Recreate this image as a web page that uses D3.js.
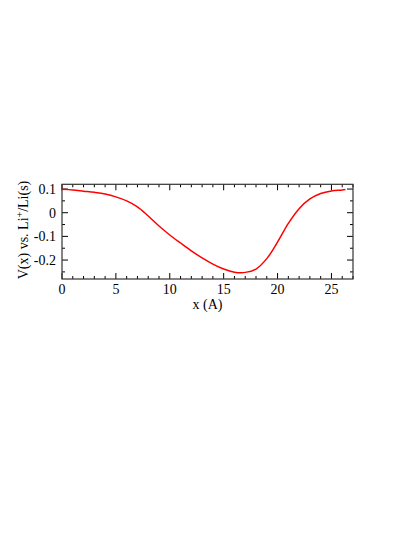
<!DOCTYPE html>
<html><head><meta charset="utf-8">
<script src="https://cdn.jsdelivr.net/npm/d3@7"></script>
<style>body{margin:0;background:#fff}svg{display:block}text{font-family:"Liberation Serif","Times New Roman",serif;fill:#000}</style>
</head><body>
<script>
const xValues = [0,1,2,3,4,5,6,7,8,9,10,11,12,13,14,15,16,17,18,19,20,21,22,23,24,25,26,26.3];
const yValues = [0.099,0.096,0.091,0.086,0.079,0.067,0.050,0.025,-0.014,-0.056,-0.094,-0.128,-0.161,-0.191,-0.217,-0.238,-0.251,-0.252,-0.238,-0.194,-0.124,-0.045,0.017,0.058,0.081,0.092,0.096,0.098];
const xTicks = [0,5,10,15,20,25];
const yTicks = [0.1,0,-0.1,-0.2];
const xMinor = d3.range(0,28,1);
const yMinor = [0.1,0.05,0,-0.05,-0.1,-0.15,-0.2,-0.25];

const W=415,H=537;
const L=62,R=353,T=184.3,B=279;
const svg=d3.select("body").append("svg").attr("width",W).attr("height",H);
const x=d3.scaleLinear().domain([0,27]).range([L,R]);
const y=d3.scaleLinear().domain([-0.28,0.12]).range([B,T]);
const fmt=d=>d===0?"0":d3.format(".1f")(d).replace("−","-");

const g=svg.append("g");
xMinor.forEach(v=>{
  const major=xTicks.includes(v), len=major?6:3;
  g.append("line").attr("x1",x(v)).attr("x2",x(v)).attr("y1",B).attr("y2",B-len).attr("stroke","#000");
  g.append("line").attr("x1",x(v)).attr("x2",x(v)).attr("y1",T).attr("y2",T+len).attr("stroke","#000");
});
yMinor.forEach(v=>{
  const major=yTicks.some(t=>Math.abs(t-v)<1e-9), len=major?6:3;
  g.append("line").attr("y1",y(v)).attr("y2",y(v)).attr("x1",L).attr("x2",L+len).attr("stroke","#000");
  g.append("line").attr("y1",y(v)).attr("y2",y(v)).attr("x1",R).attr("x2",R-len).attr("stroke","#000");
});
g.append("rect").attr("x",L).attr("y",T).attr("width",R-L).attr("height",B-T).attr("fill","none").attr("stroke","#333").attr("stroke-width",1.2);

xTicks.forEach(v=>g.append("text").attr("x",x(v)).attr("y",B+15).attr("text-anchor","middle").attr("font-size",14).text(v));
yTicks.forEach(v=>g.append("text").attr("x",L-6).attr("y",y(v)+5).attr("text-anchor","end").attr("font-size",14).text(fmt(v)));

g.append("text").attr("x",(L+R)/2).attr("y",309).attr("text-anchor","middle").attr("font-size",14).text("x (A)");
const yl=g.append("text").attr("transform","translate(28,230) rotate(-90)").attr("text-anchor","middle").attr("font-size",14);
yl.append("tspan").text("V(x) vs. Li");
yl.append("tspan").attr("dy",-5).attr("font-size",10).text("+");
yl.append("tspan").attr("dy",5).text("/Li(s)");

const data=xValues.map((v,i)=>[v,yValues[i]]);
g.append("path").datum(data).attr("fill","none").attr("stroke","#f00").attr("stroke-width",1.5)
 .attr("d",d3.line().x(d=>x(d[0])).y(d=>y(d[1])).curve(d3.curveCatmullRom));
</script>
</body></html>
